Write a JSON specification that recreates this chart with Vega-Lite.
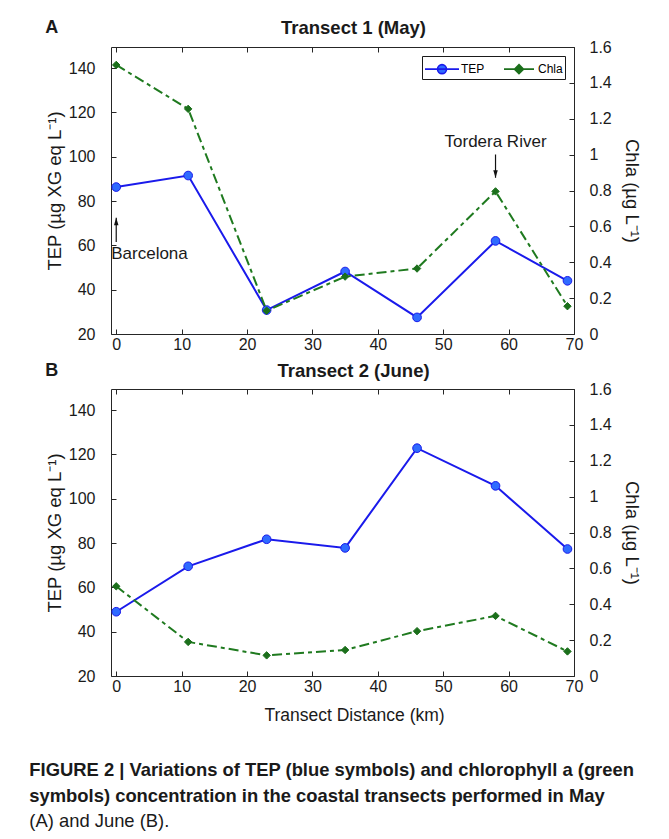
{
  "$schema": "https://vega.github.io/schema/vega-lite/v6.json",
  "background": "white",
  "padding": {"left": 29, "top": 18, "right": 5, "bottom": 5},
  "config": {
    "font": "Liberation Sans",
    "view": {"stroke": null},
    "axis": {
      "grid": false, "domainColor": "#262626", "tickColor": "#262626", "domainWidth": 1, "tickWidth": 1,
      "tickSize": -5, "labelFont": "Liberation Sans", "labelFontSize": 16, "labelColor": "#1a1a1a",
      "labelFlush": false, "labelOverlap": false, "titleFont": "Liberation Sans", "titleFontSize": 18.5,
      "titleFontWeight": "normal", "titleColor": "#1a1a1a"
    },
    "axisLeft": {"labelPadding": 21, "titlePadding": 4},
    "axisRight": {"labelPadding": 20, "titlePadding": 10},
    "axisBottom": {"labelPadding": 7.5, "titlePadding": 12},
    "title": {"font": "Liberation Sans", "fontSize": 18.5, "fontWeight": "bold", "color": "#1a1a1a"}
  },
  "datasets": {
    "pts": [
      {"panel": "A", "series": "TEP", "km": 0, "value": 86.3},
      {"panel": "A", "series": "TEP", "km": 11, "value": 91.5},
      {"panel": "A", "series": "TEP", "km": 23, "value": 30.8},
      {"panel": "A", "series": "TEP", "km": 35, "value": 48.2},
      {"panel": "A", "series": "TEP", "km": 46, "value": 27.5},
      {"panel": "A", "series": "TEP", "km": 58, "value": 62},
      {"panel": "A", "series": "TEP", "km": 69, "value": 44},
      {"panel": "A", "series": "Chla", "km": 0, "value": 1.5},
      {"panel": "A", "series": "Chla", "km": 11, "value": 1.255},
      {"panel": "A", "series": "Chla", "km": 23, "value": 0.13},
      {"panel": "A", "series": "Chla", "km": 35, "value": 0.32},
      {"panel": "A", "series": "Chla", "km": 46, "value": 0.365},
      {"panel": "A", "series": "Chla", "km": 58, "value": 0.795},
      {"panel": "A", "series": "Chla", "km": 69, "value": 0.155},
      {"panel": "B", "series": "TEP", "km": 0, "value": 49},
      {"panel": "B", "series": "TEP", "km": 11, "value": 69.5},
      {"panel": "B", "series": "TEP", "km": 23, "value": 81.7},
      {"panel": "B", "series": "TEP", "km": 35, "value": 77.8},
      {"panel": "B", "series": "TEP", "km": 46, "value": 122.8},
      {"panel": "B", "series": "TEP", "km": 58, "value": 105.8},
      {"panel": "B", "series": "TEP", "km": 69, "value": 77.3},
      {"panel": "B", "series": "Chla", "km": 0, "value": 0.5},
      {"panel": "B", "series": "Chla", "km": 11, "value": 0.19},
      {"panel": "B", "series": "Chla", "km": 23, "value": 0.115},
      {"panel": "B", "series": "Chla", "km": 35, "value": 0.145},
      {"panel": "B", "series": "Chla", "km": 46, "value": 0.25},
      {"panel": "B", "series": "Chla", "km": 58, "value": 0.335},
      {"panel": "B", "series": "Chla", "km": 69, "value": 0.137}
    ],
    "notes": [
      {"label": "Barcelona", "km": 0, "value": 53.75},
      {"label": "Tordera River", "km": 58, "value": 104.3}
    ],
    "arrows": [
      {"label": "Barcelona", "km": 0, "value": 61.5, "value2": 72.5, "dir": "up"},
      {"label": "Tordera River", "km": 58, "value": 101, "value2": 90.5, "dir": "down"}
    ]
  },
  "title": {
    "text": ["FIGURE 2 | Variations of TEP (blue symbols) and chlorophyll a (green", "symbols) concentration in the coastal transects performed in May"],
    "subtitle": "(A) and June (B).",
    "orient": "bottom", "anchor": "start", "frame": "bounds", "dx": -16, "offset": 37,
    "fontSize": 18.4, "fontWeight": "bold", "lineHeight": 25.5, "color": "#1a1a1a",
    "subtitleFont": "Liberation Sans", "subtitleFontSize": 18.4, "subtitleFontWeight": "normal", "subtitleColor": "#1a1a1a",
    "subtitlePadding": 7.5
  },
  "resolve": {"scale": {"color": "independent", "shape": "independent", "stroke": "independent"}, "legend": {"color": "independent", "shape": "independent", "stroke": "independent"}},
  "spacing": 8,
  "vconcat": [
    {
      "title": {"text": "A", "anchor": "start", "frame": "bounds", "fontSize": 18, "offset": 0, "dy": 18.4},
      "resolve": {"scale": {"color": "independent", "shape": "independent", "stroke": "independent"}, "legend": {"color": "independent", "shape": "independent", "stroke": "independent"}},
      "vconcat": [
        {
          "width": 463, "height": 287,
          "title": {"text": "Transect 1 (May)", "offset": 2, "dx": 11},
          "resolve": {"scale": {"y": "independent"}, "axis": {"x": "independent"}},
          "layer": [
            {
              "encoding": {
                "x": {"field": "km", "type": "quantitative", "scale": {"domain": [-0.8, 70], "nice": false, "zero": false},
                      "axis": {"orient": "bottom", "values": [0, 10, 20, 30, 40, 50, 60, 70], "title": null}},
                "y": {"field": "value", "type": "quantitative", "scale": {"domain": [20, 149.5], "nice": false, "zero": false},
                      "axis": {"orient": "left", "values": [20, 40, 60, 80, 100, 120, 140], "title": "TEP (µg XG eq L⁻¹)"}}
              },
              "layer": [
                {
                  "data": {"name": "pts"},
                  "transform": [{"filter": "datum.panel === 'A' && datum.series === 'TEP'"}],
                  "mark": {"type": "line", "color": "#1a1aeb", "strokeWidth": 2}
                },
                {
                  "data": {"name": "pts"},
                  "transform": [{"filter": "datum.panel === 'A' && datum.series === 'TEP'"}],
                  "mark": {"type": "point", "shape": "circle", "filled": true, "size": 75, "fill": "#2f6bff", "stroke": "#1a1aeb", "strokeWidth": 1, "opacity": 1}
                },
                {
                  "data": {"name": "pts"},
                  "transform": [{"filter": "datum.panel === 'legend-only'"}],
                  "mark": {"type": "point", "filled": true, "opacity": 1},
                  "encoding": {
                    "color": {"field": "series", "type": "nominal", "scale": {"domain": ["TEP", "Chla"], "range": ["#2f6bff", "#1b6f1b"]},
                      "legend": {
                        "orient": "top-right", "offset": 9, "direction": "horizontal", "title": null,
                        "fillColor": "white", "strokeColor": "#1a1a1a", "padding": 2, "symbolSize": 400, "symbolStrokeWidth": 1.6,
                        "symbolOffset": 7,
                        "labelFont": "Liberation Sans", "labelFontSize": 12, "labelOffset": 8, "columnPadding": 15,
                        "encode": {
                          "labels": {"fill": {"condition": {"test": "datum.value === 'TEP'", "value": "#2424ff"}, "value": "#1b7a1b"}}
                        }
                      }},
                    "stroke": {"field": "series", "type": "nominal", "scale": {"domain": ["TEP", "Chla"], "range": ["#1a1aeb", "#1b6f1b"]}},
                    "shape": {"field": "series", "type": "nominal", "scale": {"domain": ["TEP", "Chla"], "range": ["M-1.7,0H1.7M0.45,0A0.45,0.45,0,1,1,-0.45,0A0.45,0.45,0,1,1,0.45,0Z", "M-1.5,0H1.5M0,-0.45L0.45,0L0,0.45L-0.45,0Z"]}}
                  }
                },
                {
                  "data": {"name": "arrows"},
                  "mark": {"type": "rule", "color": "#111111", "strokeWidth": 1.2},
                  "encoding": {"y2": {"field": "value2"}}
                },
                {
                  "data": {"name": "arrows"},
                  "transform": [{"filter": "datum.dir === 'up'"}],
                  "mark": {"type": "point", "shape": "M0,0L-0.45,1.5L0.45,1.5Z", "size": 100, "filled": true, "color": "#111111", "opacity": 1},
                  "encoding": {"y": {"field": "value2", "type": "quantitative"}}
                },
                {
                  "data": {"name": "arrows"},
                  "transform": [{"filter": "datum.dir === 'down'"}],
                  "mark": {"type": "point", "shape": "M0,0L-0.45,-1.5L0.45,-1.5Z", "size": 100, "filled": true, "color": "#111111", "opacity": 1},
                  "encoding": {"y": {"field": "value2", "type": "quantitative"}}
                },
                {
                  "data": {"name": "notes"},
                  "transform": [{"filter": "datum.label === 'Barcelona'"}],
                  "mark": {"type": "text", "align": "left", "baseline": "alphabetic", "dx": -5, "fontSize": 17, "color": "#1a1a1a"},
                  "encoding": {"text": {"field": "label"}}
                },
                {
                  "data": {"name": "notes"},
                  "transform": [{"filter": "datum.label === 'Tordera River'"}],
                  "mark": {"type": "text", "align": "center", "baseline": "alphabetic", "fontSize": 17, "color": "#1a1a1a"},
                  "encoding": {"text": {"field": "label"}}
                }
              ]
            },
            {
              "data": {"name": "pts"},
              "transform": [{"filter": "datum.panel === 'A' && datum.series === 'Chla'"}],
              "encoding": {
                "x": {"field": "km", "type": "quantitative", "scale": {"domain": [-0.8, 70], "nice": false, "zero": false},
                      "axis": {"orient": "top", "values": [0, 10, 20, 30, 40, 50, 60, 70], "labels": false, "title": null}},
                "y": {"field": "value", "type": "quantitative", "scale": {"domain": [0, 1.6], "nice": false},
                      "axis": {"orient": "right", "values": [0, 0.2, 0.4, 0.6, 0.8, 1, 1.2, 1.4, 1.6], "format": "~g", "title": "Chla (µg L⁻¹)"}}
              },
              "layer": [
                {"mark": {"type": "line", "color": "#1f7a1f", "strokeWidth": 2, "strokeDash": [10, 4, 4, 4]}},
                {"mark": {"type": "point", "shape": "diamond", "filled": true, "size": 55, "fill": "#1b6f1b", "stroke": "#1b6f1b", "strokeWidth": 1, "opacity": 1}}
              ]
            }
          ]
        }
      ]
    },
    {
      "title": {"text": "B", "anchor": "start", "frame": "bounds", "fontSize": 18, "offset": 0, "dy": 18.4},
      "vconcat": [
        {
          "width": 463, "height": 287,
          "title": {"text": "Transect 2 (June)", "offset": 1, "dx": 11},
          "resolve": {"scale": {"y": "independent"}, "axis": {"x": "independent"}},
          "layer": [
            {
              "data": {"name": "pts"},
              "transform": [{"filter": "datum.panel === 'B' && datum.series === 'TEP'"}],
              "encoding": {
                "x": {"field": "km", "type": "quantitative", "scale": {"domain": [-0.8, 70], "nice": false, "zero": false},
                      "axis": {"orient": "bottom", "values": [0, 10, 20, 30, 40, 50, 60, 70], "title": "Transect Distance (km)", "titleFontSize": 17.5, "titleX": 243}},
                "y": {"field": "value", "type": "quantitative", "scale": {"domain": [20, 149.5], "nice": false, "zero": false},
                      "axis": {"orient": "left", "values": [20, 40, 60, 80, 100, 120, 140], "title": "TEP (µg XG eq L⁻¹)"}}
              },
              "layer": [
                {"mark": {"type": "line", "color": "#1a1aeb", "strokeWidth": 2}},
                {"mark": {"type": "point", "shape": "circle", "filled": true, "size": 75, "fill": "#2f6bff", "stroke": "#1a1aeb", "strokeWidth": 1, "opacity": 1}}
              ]
            },
            {
              "data": {"name": "pts"},
              "transform": [{"filter": "datum.panel === 'B' && datum.series === 'Chla'"}],
              "encoding": {
                "x": {"field": "km", "type": "quantitative", "scale": {"domain": [-0.8, 70], "nice": false, "zero": false},
                      "axis": {"orient": "top", "values": [0, 10, 20, 30, 40, 50, 60, 70], "labels": false, "title": null}},
                "y": {"field": "value", "type": "quantitative", "scale": {"domain": [0, 1.6], "nice": false},
                      "axis": {"orient": "right", "values": [0, 0.2, 0.4, 0.6, 0.8, 1, 1.2, 1.4, 1.6], "format": "~g", "title": "Chla (µg L⁻¹)"}}
              },
              "layer": [
                {"mark": {"type": "line", "color": "#1f7a1f", "strokeWidth": 2, "strokeDash": [10, 4, 4, 4]}},
                {"mark": {"type": "point", "shape": "diamond", "filled": true, "size": 55, "fill": "#1b6f1b", "stroke": "#1b6f1b", "strokeWidth": 1, "opacity": 1}}
              ]
            }
          ]
        }
      ]
    }
  ]
}
